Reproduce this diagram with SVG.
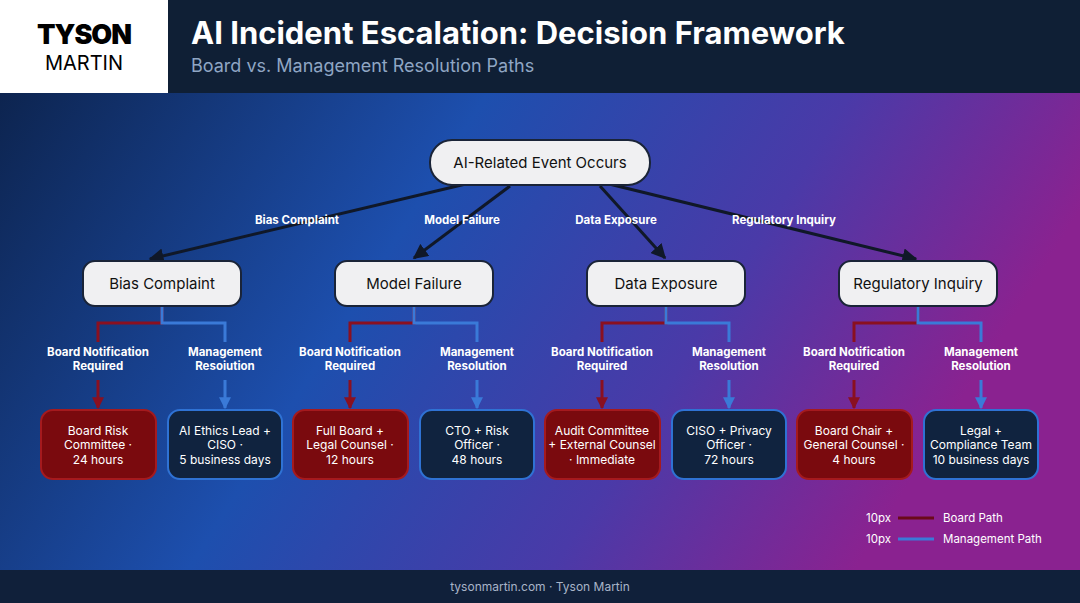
<svg xmlns="http://www.w3.org/2000/svg" width="1080" height="603" viewBox="0 0 1080 603">
<defs>
<linearGradient id="bg" x1="0" y1="0" x2="1" y2="0.35">
<stop offset="0" stop-color="#0b1f44"/>
<stop offset="0.45" stop-color="#1d4fae"/>
<stop offset="0.75" stop-color="#4a3aa8"/>
<stop offset="1" stop-color="#8a2290"/>
</linearGradient>
<marker id="ad" viewBox="0 0 10 10" refX="9" refY="5" markerWidth="5" markerHeight="5" orient="auto"><path d="M0,0L10,5L0,10z" fill="#101828"/></marker>
<marker id="ar" viewBox="0 0 10 10" refX="9" refY="5" markerWidth="4" markerHeight="4" orient="auto"><path d="M0,0L10,5L0,10z" fill="#8a1020"/></marker>
<marker id="ab" viewBox="0 0 10 10" refX="9" refY="5" markerWidth="4" markerHeight="4" orient="auto"><path d="M0,0L10,5L0,10z" fill="#3a7ad8"/></marker>
</defs>
<style>
text{font-family:Inter,"Liberation Sans",sans-serif}
.cat{fill:#f0f0f2;stroke:#1a2438;stroke-width:2}
.ct{font-size:15px;fill:#111;text-anchor:middle}
.lb{font-size:11.5px;font-weight:bold;fill:#fff;text-anchor:middle}
.rb{fill:#7a0a0e;stroke:#a51a1e;stroke-width:2}
.bb{fill:#10233f;stroke:#2f72d4;stroke-width:2}
.lt{font-size:12px;fill:#fff;text-anchor:middle}
.dk{stroke:#101828;stroke-width:3;fill:none}
.rl{stroke:#8a1020;stroke-width:3;fill:none}
.bl{stroke:#3a7ad8;stroke-width:3;fill:none}
</style>
<rect width="1080" height="603" fill="url(#bg)"/>
<rect width="1080" height="93" fill="#0f1f35"/>
<rect width="168" height="93" fill="#fff"/>
<text x="84" y="44" font-size="27" font-weight="900" text-anchor="middle" fill="#000" letter-spacing="-1">TYSON</text>
<text x="84" y="70" font-size="20" text-anchor="middle" fill="#000">MARTIN</text>
<text x="191" y="44" font-size="31" font-weight="bold" fill="#fff">AI Incident Escalation: Decision Framework</text>
<text x="191" y="72" font-size="18" fill="#8fa6c4">Board vs. Management Resolution Paths</text>
<rect y="570" width="1080" height="33" fill="#10203a"/>
<text x="540" y="591" font-size="12" fill="#a8b4c8" text-anchor="middle">tysonmartin.com · Tyson Martin</text>
<g id="connectors">
<path class="dk" d="M470,183L150,259" marker-end="url(#ad)"/>
<path class="dk" d="M510,186L414,258" marker-end="url(#ad)"/>
<path class="dk" d="M600,186L665,258" marker-end="url(#ad)"/>
<path class="dk" d="M605,183L916,259" marker-end="url(#ad)"/>
<g id="b1"><path class="rl" d="M162,307V323H98V342"/><path class="bl" d="M162,307V323H225V342"/><path class="rl" d="M98,380V408" marker-end="url(#ar)"/><path class="bl" d="M225,380V408" marker-end="url(#ab)"/></g>
<g id="b2"><path class="rl" d="M414,307V323H350V342"/><path class="bl" d="M414,307V323H477V342"/><path class="rl" d="M350,380V408" marker-end="url(#ar)"/><path class="bl" d="M477,380V408" marker-end="url(#ab)"/></g>
<g id="b3"><path class="rl" d="M666,307V323H602V342"/><path class="bl" d="M666,307V323H729V342"/><path class="rl" d="M602,380V408" marker-end="url(#ar)"/><path class="bl" d="M729,380V408" marker-end="url(#ab)"/></g>
<g id="b4"><path class="rl" d="M918,307V323H854V342"/><path class="bl" d="M918,307V323H981V342"/><path class="rl" d="M854,380V408" marker-end="url(#ar)"/><path class="bl" d="M981,380V408" marker-end="url(#ab)"/></g>
<text class="lb" x="297" y="224">Bias Complaint</text>
<text class="lb" x="462" y="224">Model Failure</text>
<text class="lb" x="616" y="224">Data Exposure</text>
<text class="lb" x="784" y="224">Regulatory Inquiry</text>
</g>
<g id="root"><rect class="cat" x="430" y="140" width="220" height="45" rx="22"/><text class="ct" x="540" y="168">AI-Related Event Occurs</text></g>
<g id="cat1"><rect class="cat" x="83" y="261" width="158" height="45" rx="12"/><text class="ct" x="162" y="289">Bias Complaint</text></g>
<g id="cat2"><rect class="cat" x="335" y="261" width="158" height="45" rx="12"/><text class="ct" x="414" y="289">Model Failure</text></g>
<g id="cat3"><rect class="cat" x="587" y="261" width="158" height="45" rx="12"/><text class="ct" x="666" y="289">Data Exposure</text></g>
<g id="cat4"><rect class="cat" x="839" y="261" width="158" height="45" rx="12"/><text class="ct" x="918" y="289">Regulatory Inquiry</text></g>
<g id="labels">
<text class="lb" x="98" y="356">Board Notification</text><text class="lb" x="98" y="370">Required</text>
<text class="lb" x="225" y="356">Management</text><text class="lb" x="225" y="370">Resoiution</text>
<text class="lb" x="350" y="356">Board Notification</text><text class="lb" x="350" y="370">Required</text>
<text class="lb" x="477" y="356">Management</text><text class="lb" x="477" y="370">Resolution</text>
<text class="lb" x="602" y="356">Board Notification</text><text class="lb" x="602" y="370">Required</text>
<text class="lb" x="729" y="356">Management</text><text class="lb" x="729" y="370">Resolution</text>
<text class="lb" x="854" y="356">Board Notification</text><text class="lb" x="854" y="370">Required</text>
<text class="lb" x="981" y="356">Management</text><text class="lb" x="981" y="370">Resolution</text>
</g>
<g id="leaf1r"><rect class="rb" x="41" y="410" width="115" height="69" rx="12"/><text class="lt" x="98" y="435">Board Risk</text><text class="lt" x="98" y="449">Committee ·</text><text class="lt" x="98" y="464">24 hours</text></g>
<g id="leaf1b"><rect class="bb" x="168" y="410" width="114" height="69" rx="12"/><text class="lt" x="225" y="435">AI Ethics Lead +</text><text class="lt" x="225" y="449">CISO ·</text><text class="lt" x="225" y="464">5 business days</text></g>
<g id="leaf2r"><rect class="rb" x="293" y="410" width="115" height="69" rx="12"/><text class="lt" x="350" y="435">Full Board +</text><text class="lt" x="350" y="449">Legal Counsel ·</text><text class="lt" x="350" y="464">12 hours</text></g>
<g id="leaf2b"><rect class="bb" x="420" y="410" width="114" height="69" rx="12"/><text class="lt" x="477" y="435">CTO + Risk</text><text class="lt" x="477" y="449">Officer ·</text><text class="lt" x="477" y="464">48 hours</text></g>
<g id="leaf3r"><rect class="rb" x="545" y="410" width="115" height="69" rx="12"/><text class="lt" x="602" y="435">Audit Committee</text><text class="lt" x="602" y="449">+ External Counsel</text><text class="lt" x="602" y="464">· Immediate</text></g>
<g id="leaf3b"><rect class="bb" x="672" y="410" width="114" height="69" rx="12"/><text class="lt" x="729" y="435">CISO + Privacy</text><text class="lt" x="729" y="449">Officer ·</text><text class="lt" x="729" y="464">72 hours</text></g>
<g id="leaf4r"><rect class="rb" x="797" y="410" width="115" height="69" rx="12"/><text class="lt" x="854" y="435">Board Chair +</text><text class="lt" x="854" y="449">General Counsel ·</text><text class="lt" x="854" y="464">4 hours</text></g>
<g id="leaf4b"><rect class="bb" x="924" y="410" width="114" height="69" rx="12"/><text class="lt" x="981" y="435">Legal +</text><text class="lt" x="981" y="449">Compliance Team</text><text class="lt" x="981" y="464">10 business days</text></g>
<g id="legend">
<text x="866" y="522" font-size="11.5" fill="#fff">10px</text>
<line x1="898" y1="518" x2="934" y2="518" stroke="#6a0a1a" stroke-width="3"/>
<text x="943" y="522" font-size="11.5" fill="#fff">Board Path</text>
<text x="866" y="543" font-size="11.5" fill="#fff">10px</text>
<line x1="898" y1="539" x2="934" y2="539" stroke="#3a7ad8" stroke-width="3"/>
<text x="943" y="543" font-size="11.5" fill="#fff">Management Path</text>
</g>
</svg>
